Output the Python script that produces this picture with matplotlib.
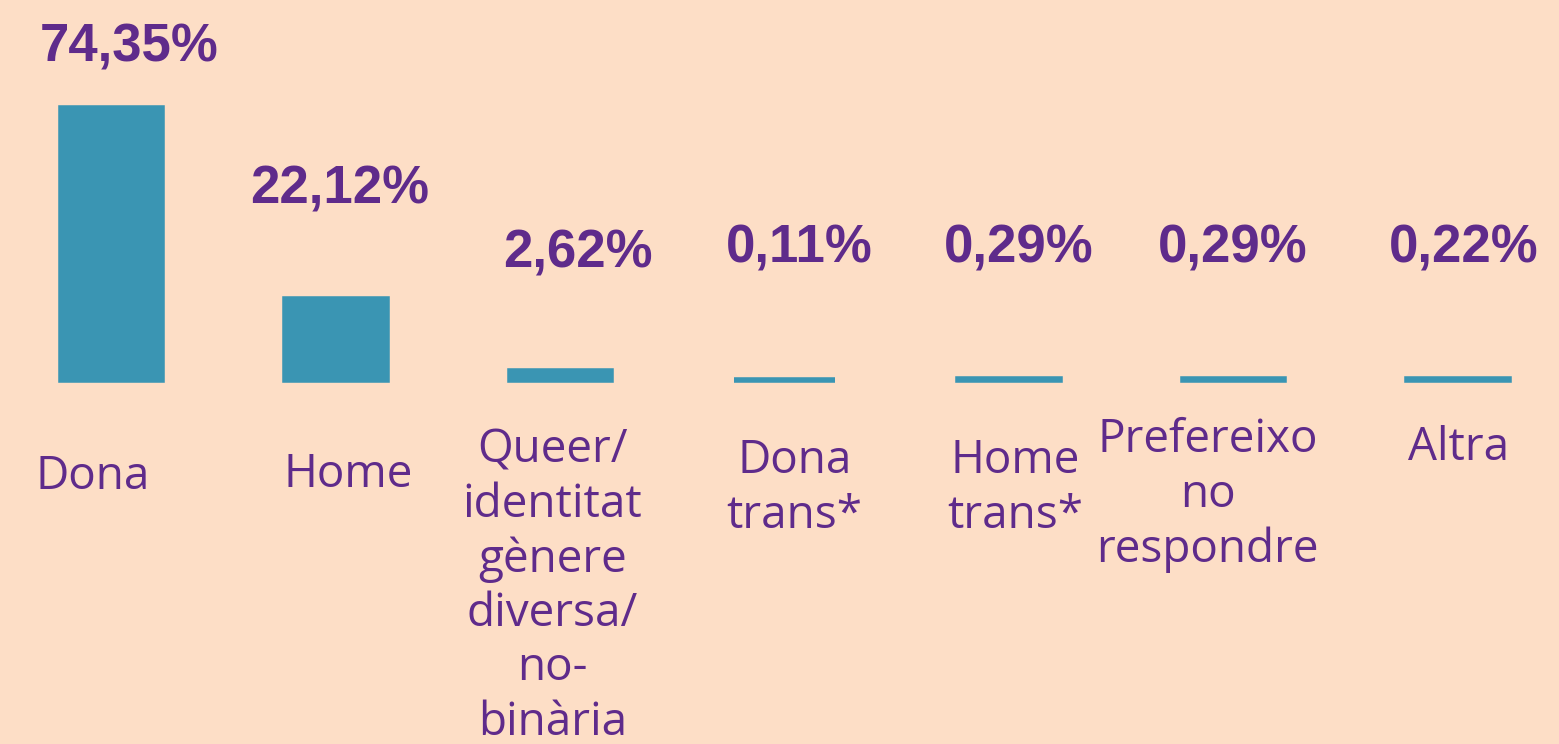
import matplotlib
matplotlib.use("Agg")
import matplotlib.pyplot as plt

# ---- data ----
categories = ["Dona", "Home", "Queer/\nidentitat\ngènere\ndiversa/\nno-\nbinària",
              "Dona\ntrans*", "Home\ntrans*", "Prefereixo\nno\nrespondre", "Altra"]
values = [74.35, 22.12, 2.62, 0.11, 0.29, 0.29, 0.22]
value_labels = ["74,35%", "22,12%", "2,62%", "0,11%", "0,29%", "0,29%", "0,22%"]

# ---- style / layout ----
BG = "#FDDEC6"
BAR = "#3A95B3"
PURPLE = "#5F2B8B"
DPI = 100
# label placement offsets (pixels) relative to bar centre / bar top
val_dx = [18, 4, 18, 15, 10, -1, 6]
val_dy = [60, 110, 117, 131, 131, 131, 131]
cat_dx = [-19, 12, -8, 10, 6, -26, 1]
cat_dy = [-74, -72, -47, -58, -58, -37, -45]

fig = plt.figure(figsize=(15.59, 7.44), dpi=DPI, facecolor=BG)
ax = fig.add_axes([0, 0, 1, 1])
ax.set_facecolor(BG)

x = list(range(len(categories)))
ax.bar(x, values, width=0.452, color=BAR, edgecolor=BAR, linewidth=4)

for i, (v, lab) in enumerate(zip(values, value_labels)):
    ax.annotate(lab, (i, v), xytext=(val_dx[i], val_dy[i]), textcoords="offset pixels",
                ha="center", va="center", fontsize=38, fontweight="bold",
                family="Liberation Sans", color=PURPLE)

for i, c in enumerate(categories):
    ax.annotate(c, (i, 0), xytext=(cat_dx[i], cat_dy[i]), textcoords="offset pixels",
                ha="center", va="top", fontsize=33, family="Open Sans",
                color=PURPLE, linespacing=1.24)

ax.set_xlim(-0.4969, 6.4506)
ax.set_ylim(-99.29, 103.77)
ax.axis("off")

fig.savefig("out.png", dpi=DPI, facecolor=BG)
